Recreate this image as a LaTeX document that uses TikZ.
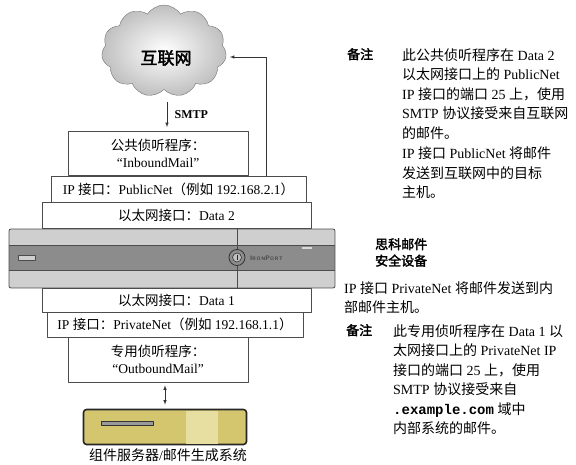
\documentclass[tikz,border=0pt]{standalone}
\usepackage{fontspec}
\setmainfont{Liberation Serif}
\setmonofont{Liberation Mono}
\newfontfamily\zh{Noto Sans CJK SC}
\newfontfamily\zhb[FakeBold=2.5]{Noto Sans CJK SC}
\usetikzlibrary{arrows,shapes.symbols}

\definecolor{boxline}{gray}{0.30}
\definecolor{bandlight}{gray}{0.81}
\definecolor{banddark}{gray}{0.55}
\definecolor{srvfill}{RGB}{211,198,110}
\definecolor{srvlight}{RGB}{231,222,162}

\newcommand{\boxfont}{\fontsize{13.5}{17}\selectfont}
\newcommand{\notefont}{\fontsize{14}{19.5}\selectfont}
\newcommand{\brandbig}[1]{{\fontsize{6.5}{6.5}\selectfont #1}}
\newcommand{\brandsmall}[1]{{\fontsize{5}{5}\selectfont #1}}

\begin{document}
\begin{tikzpicture}[x=1pt,y=-1pt,join=round,
    box/.style={draw=boxline,line width=0.6pt,inner sep=0pt,align=center,font=\boxfont},
    arr/.style={-latex,line width=0.6pt,draw=black!80},
    note/.style={inner sep=0pt,anchor=north west,align=left,font=\notefont},
    notehead/.style={inner sep=0pt,anchor=north west,align=left,font=\zhb\fontsize{13}{17}\selectfont}]
    \useasboundingbox (0,0) rectangle (576,465);

    % internet cloud
    \node[cloud,cloud puffs=11,cloud puff arc=115,aspect=1.35,draw=black!55,
          inner color=white,outer color=black!25,
          minimum width=125pt,minimum height=92pt] (inet) at (164,51) {};
    \node[font=\zhb\fontsize{17}{17}\selectfont] (inettxt) at (166,58) {互联网};

    % public side
    \node[box,minimum width=180pt,minimum height=44pt] (publis) at (158,153.5)
        {{\zh 公共侦听程序：}\\“InboundMail”};
    \node[box,minimum width=255pt,minimum height=26pt] (pubip) at (178.5,189)
        {IP {\zh 接口：}PublicNet{\zh （例如} 192.168.2.1{\zh ）}};
    \node[box,minimum width=269pt,minimum height=26pt] (eth2) at (176.5,215)
        {{\zh 以太网接口：}Data 2};

    % private side
    \node[box,minimum width=269pt,minimum height=24pt] (eth1) at (176.5,300)
        {{\zh 以太网接口：}Data 1};
    \node[box,minimum width=256pt,minimum height=25pt] (privip) at (175,324.5)
        {IP {\zh 接口：}PrivateNet{\zh （例如} 192.168.1.1{\zh ）}};
    \node[box,minimum width=180pt,minimum height=45pt] (privlis) at (158,359.5)
        {{\zh 专用侦听程序：}\\“OutboundMail”};

    % appliance front panel
    \fill[bandlight] (9,229) rectangle (335,288);
    \fill[banddark] (9,245) rectangle (335,270);
    \draw[boxline,line width=0.5pt] (9,245) -- (335,245) (9,270) -- (335,270);
    \draw[boxline,line width=0.8pt,rounded corners=2pt] (9,229) rectangle (335,288);
    \draw[boxline,line width=0.8pt] (237,229) -- (237,288);
    \filldraw[fill=bandlight,draw=black!70,line width=0.5pt] (18,255) rectangle (35,260);
    \draw[white!85!black,line width=1.2pt] (302,248) -- (312,248);
    \filldraw[fill=black!45,draw=black!80,line width=0.8pt] (237,257.5) circle (8pt);
    \filldraw[fill=black!25,draw=black!80,line width=0.6pt] (237,257.5) circle (4.5pt);
    \draw[black!85,line width=0.9pt] (237,255) -- (237,260);
    \node[font=\sffamily\bfseries,text=black!75,inner sep=0pt] (brand) at (266.5,258)
        {\brandbig{I}\brandsmall{R\,O\,N}\brandbig{P}\brandsmall{O\,R\,T}};

    % mail server
    \node[draw=black!85,line width=1.6pt,rounded corners=3pt,fill=srvfill,
          minimum width=163pt,minimum height=35pt,inner sep=0pt] (server) at (165,427) {};
    \fill[srvlight] (186,410.5) rectangle (218,443.5);
    \filldraw[fill=black!40,draw=black!80,line width=0.6pt] (101,421.5) rectangle (153,425);
    \node[font=\zh\fontsize{14}{17}\selectfont,inner sep=0pt] (srvtxt) at (168,455.5)
        {组件服务器\rmfamily/\zh 邮件生成系统};

    % connectors
    \draw[arr] ([xshift=9pt,yshift=29pt]publis.north) -- ([xshift=9pt,yshift=4pt]publis.north)
        node[midway,right=4pt,font=\bfseries\fontsize{12}{12}\selectfont] (smtp) {SMTP};
    \draw[arr] ([xshift=88pt]pubip.north) |- ([xshift=4pt,yshift=-6pt]inet.east);
    \draw[latex-latex,line width=0.6pt,draw=black!80,shorten <=3pt,shorten >=4pt]
        (privlis.south -| server.north) -- (server.north);

    % notes on the right
    \node[notehead] (head1) at (347,48) {备注};
    \node[note] (note1) at (402,48)
        {{\zh 此公共侦听程序在} Data 2\\
         {\zh 以太网接口上的} PublicNet\\
         IP {\zh 接口的端口} 25 {\zh 上，使用}\\
         SMTP {\zh 协议接受来自互联网}\\
         {\zh 的邮件。}\\[1pt]
         IP {\zh 接口} PublicNet {\zh 将邮件}\\
         {\zh 发送到互联网中的目标}\\
         {\zh 主机。}};

    \node[notehead,align=left,font=\zhb\fontsize{13}{16.5}\selectfont] (appl) at (375,238)
        {思科邮件\\安全设备};
    \node[note] (privnote) at (344,281)
        {IP {\zh 接口} PrivateNet {\zh 将邮件发送到内}\\
         {\zh 部邮件主机。}};

    \node[notehead] (head2) at (346,324) {备注};
    \node[note] (note2) at (393,324)
        {{\zh 此专用侦听程序在} Data 1 {\zh 以}\\
         {\zh 太网接口上的} PrivateNet IP\\
         {\zh 接口的端口} 25 {\zh 上，使用}\\
         SMTP {\zh 协议接受来自}\\
         {\ttfamily\bfseries .example.com} {\zh 域中}\\
         {\zh 内部系统的邮件。}};
\end{tikzpicture}
\end{document}
